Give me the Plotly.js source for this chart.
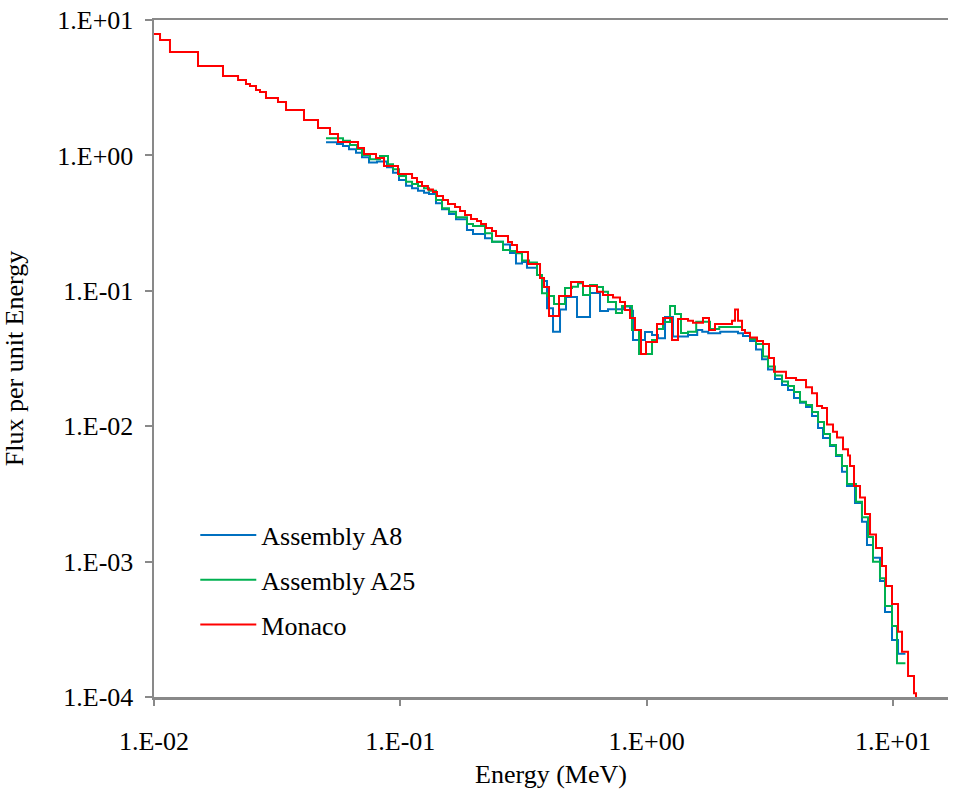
<!DOCTYPE html>
<html>
<head>
<meta charset="utf-8">
<script src="https://cdn.plot.ly/plotly-3.0.1.min.js"></script>
<style>html,body{margin:0;padding:0;background:#fff;}#chart{width:954px;height:791px;}</style>
</head>
<body>
<div id="chart"></div>
<script>
// Bin lower edges (MeV) and flux per unit energy for each series (last edge closes the final bin)
const monacoE = [0.0100, 0.01058, 0.01161, 0.01509, 0.01906, 0.02194, 0.02363, 0.02453, 0.02595, 0.02694,
  0.02849, 0.03187, 0.03436, 0.04064, 0.04633, 0.05183, 0.05585, 0.06734, 0.07122, 0.07968,
  0.08589, 0.09787, 0.1116, 0.1169, 0.1225, 0.1295, 0.1357, 0.1409, 0.1491, 0.1562,
  0.1668, 0.1748, 0.1831, 0.1937, 0.2049, 0.2127, 0.2228, 0.2357, 0.2447, 0.2737,
  0.2841, 0.2977, 0.3299, 0.3692, 0.3833, 0.4016, 0.4410, 0.4933, 0.5518, 0.6288,
  0.6651, 0.7305, 0.7798, 0.8171, 0.8562, 0.8971, 0.9489, 0.9944, 1.102, 1.166,
  1.268, 1.341, 1.473, 1.543, 1.694, 1.792, 1.895, 2.222, 2.286, 2.350,
  2.440, 2.509, 2.629, 2.807, 2.969, 3.140, 3.290, 3.681, 4.043, 4.439,
  4.695, 4.920, 5.155, 5.401, 5.713, 5.930, 6.273, 6.574, 6.698, 6.952,
  7.353, 7.705, 8.074, 8.539, 9.032, 9.376, 9.916, 10.49, 10.89, 11.52,
  12.18, 12.41];
const monacoFlux = [7.88, 7.117, 5.803, 4.574, 3.858, 3.605, 3.368, 3.255, 3.041, 2.939,
  2.654, 2.480, 2.164, 1.826, 1.594, 1.439, 1.256, 1.134, 1.024, 0.9567,
  0.835, 0.7289, 0.681, 0.6362, 0.5943, 0.5599, 0.5366, 0.5012, 0.4684, 0.4376,
  0.4158, 0.3885, 0.3629, 0.3391, 0.3277, 0.3114, 0.2909, 0.2764, 0.2539, 0.2293,
  0.2179, 0.1934, 0.1577, 0.1243, 0.1067, 0.06515, 0.09155, 0.1161, 0.1085, 0.0985,
  0.0931, 0.08923, 0.08265, 0.07218, 0.06297, 0.05133, 0.03414, 0.04185, 0.05685, 0.06297,
  0.0433, 0.0619, 0.06014, 0.05813, 0.06297, 0.05133, 0.05685, 0.06014, 0.07279, 0.06014,
  0.05133, 0.0488, 0.0452, 0.04257, 0.04045, 0.0319, 0.02527, 0.0227, 0.02195, 0.01938,
  0.0175, 0.0141, 0.01363, 0.01029, 0.009107, 0.008254, 0.006753, 0.006075, 0.005082, 0.003618,
  0.002975, 0.002246, 0.001586, 0.00126, 0.0009278, 0.0006604, 0.0004862, 0.0003035, 0.0002161, 0.0001429,
  0.0001065, 0.00008];

const a8E = [0.04993, 0.05533, 0.05853, 0.0619, 0.06609, 0.0699, 0.07463, 0.08042, 0.08831, 0.0934,
  0.09879, 0.1055, 0.1116, 0.118, 0.1248, 0.1308, 0.1396, 0.1477, 0.1577, 0.1683,
  0.1865, 0.1973, 0.2208, 0.2357, 0.2612, 0.2789, 0.2949, 0.312, 0.3268, 0.3589,
  0.3761, 0.3941, 0.4169, 0.4451, 0.4707, 0.5217, 0.5892, 0.6469, 0.697, 0.802,
  0.8562, 0.8805, 0.9851, 1.052, 1.112, 1.188, 1.280, 1.473, 1.605, 1.682,
  1.779, 1.990, 2.350, 2.463, 2.629, 2.781, 2.941, 3.111, 3.321, 3.546,
  3.751, 3.967, 4.196, 4.439, 4.695, 4.966, 5.202, 5.553, 5.874, 6.212,
  6.512, 7.016, 7.489, 7.848, 8.302, 8.863, 9.288, 9.916, 10.49, 11.24];
const a8Flux = [1.249, 1.214, 1.173, 1.109, 1.047, 0.9682, 0.8862, 0.9015, 0.8168, 0.745,
  0.6582, 0.5974, 0.5714, 0.5486, 0.5302, 0.5186, 0.4428, 0.3998, 0.3692, 0.3373,
  0.2812, 0.2628, 0.2442, 0.2305, 0.2197, 0.1901, 0.1591, 0.1632, 0.1482, 0.1308,
  0.1181, 0.07426, 0.04988, 0.07279, 0.09, 0.06405, 0.09633, 0.07092, 0.07303, 0.07656,
  0.07128, 0.0433, 0.04962, 0.04716, 0.04458, 0.06405, 0.04597, 0.04716, 0.05133, 0.04988,
  0.04854, 0.04988, 0.04854, 0.04636, 0.04257, 0.03685, 0.03119, 0.02622, 0.02232, 0.02014,
  0.01851, 0.01615, 0.01491, 0.01386, 0.0119, 0.009699, 0.008182, 0.007141, 0.006025, 0.004613,
  0.003618, 0.002708, 0.00197, 0.001326, 0.001069, 0.0007189, 0.0004244, 0.0002636, 0.0002088, 0.0002088];

const a25E = [0.04993, 0.05853, 0.06247, 0.06669, 0.0699, 0.07531, 0.08271, 0.08914, 0.0934, 0.09879,
  0.1055, 0.1116, 0.118, 0.1248, 0.1308, 0.1396, 0.1477, 0.1577, 0.1683, 0.1865,
  0.1973, 0.2208, 0.2357, 0.2612, 0.2789, 0.2949, 0.312, 0.333, 0.3589, 0.3761,
  0.3941, 0.4208, 0.4664, 0.4979, 0.5266, 0.5518, 0.5892, 0.6288, 0.6651, 0.697,
  0.751, 0.7946, 0.8723, 0.9314, 1.052, 1.102, 1.166, 1.245, 1.304, 1.379,
  1.473, 1.590, 1.809, 1.972, 2.440, 2.509, 2.629, 2.781, 2.969, 3.111,
  3.321, 3.546, 3.751, 3.967, 4.196, 4.439, 4.695, 4.966, 5.251, 5.553,
  5.874, 6.212, 6.512, 7.082, 7.489, 7.923, 8.302, 8.863, 9.288, 9.916,
  10.39, 11.24];
const a25Flux = [1.337, 1.284, 1.193, 1.115, 1.007, 0.9359, 0.9899, 0.8595, 0.7896, 0.7045,
  0.6394, 0.6149, 0.5943, 0.5714, 0.5486, 0.4684, 0.4067, 0.3839, 0.3489, 0.3114,
  0.301, 0.2659, 0.2305, 0.2001, 0.1967, 0.1891, 0.1673, 0.1618, 0.1308, 0.09584,
  0.09155, 0.07991, 0.1049, 0.1072, 0.1136, 0.0931, 0.1104, 0.1067, 0.0985, 0.08265,
  0.06856, 0.07719, 0.05133, 0.03414, 0.0433, 0.05222, 0.05883, 0.07719, 0.0674, 0.0488,
  0.04988, 0.05912, 0.05222, 0.05403, 0.05133, 0.04904, 0.04405, 0.04045, 0.03271, 0.0276,
  0.02369, 0.02139, 0.01981, 0.01789, 0.01517, 0.01434, 0.01273, 0.01074, 0.008757, 0.007263,
  0.006128, 0.005082, 0.003742, 0.002769, 0.002124, 0.001519, 0.000998, 0.0007527, 0.00047, 0.0003344,
  0.0001774, 0.0001774];

const seriesNames = ['Assembly A8', 'Assembly A25', 'Monaco'];
const xTickVals = [0.01, 0.1, 1, 10];
const xTickText = ['1.E-02', '1.E-01', '1.E+00', '1.E+01'];
const yTickVals = [1e-4, 1e-3, 1e-2, 1e-1, 1, 10];
const yTickText = ['1.E-04', '1.E-03', '1.E-02', '1.E-01', '1.E+00', '1.E+01'];

const FONT = 'Liberation Serif, Times New Roman, serif';
const AX = '#898989';

const traces = [
  {x: a8E, y: a8Flux, name: seriesNames[0], line: {color: '#0070C0', width: 2, shape: 'hv'}, legendgroup: 'g1'},
  {x: a25E, y: a25Flux, name: seriesNames[1], line: {color: '#00B050', width: 2, shape: 'hv'}, legendgroup: 'g2'},
  {x: monacoE, y: monacoFlux, name: seriesNames[2], line: {color: '#FF0000', width: 2, shape: 'hv'}, legendgroup: 'g3'}
].map(t => Object.assign({type: 'scatter', mode: 'lines', hoverinfo: 'skip'}, t));

const layout = {
  width: 954, height: 791,
  margin: {l: 154, r: 6, t: 20, b: 94},
  paper_bgcolor: '#fff', plot_bgcolor: '#fff',
  font: {family: FONT, size: 26, color: '#000'},
  showlegend: true,
  legend: {x: 0.052, y: 0.274, xanchor: 'left', yanchor: 'top', bgcolor: 'rgba(0,0,0,0)',
    font: {family: FONT, size: 26, color: '#000'}, tracegroupgap: 8, itemwidth: 56, traceorder: 'grouped'},
  xaxis: {
    type: 'log', range: [-2, 1.2237], tickvals: xTickVals, ticktext: xTickText,
    showgrid: false, zeroline: false, showline: true, linecolor: AX, linewidth: 2.5, mirror: true,
    ticks: 'outside', ticklen: 6, tickwidth: 2, tickcolor: AX, ticklabelstandoff: 13,
    tickfont: {family: FONT, size: 26, color: '#000'},
    title: {text: 'Energy (MeV)', font: {family: FONT, size: 26, color: '#000'}, standoff: 10}
  },
  yaxis: {
    type: 'log', range: [-4, 1], tickvals: yTickVals, ticktext: yTickText,
    showgrid: false, zeroline: false, showline: true, linecolor: AX, linewidth: 2.5,
    ticks: 'outside', ticklen: 7, tickwidth: 2, tickcolor: AX, ticklabelstandoff: 6,
    tickfont: {family: FONT, size: 26, color: '#000'},
    title: {text: 'Flux per unit Energy', font: {family: FONT, size: 26, color: '#000'}, standoff: 33}
  }
};

Plotly.newPlot('chart', traces, layout, {staticPlot: true, displayModeBar: false});
</script>
</body>
</html>
